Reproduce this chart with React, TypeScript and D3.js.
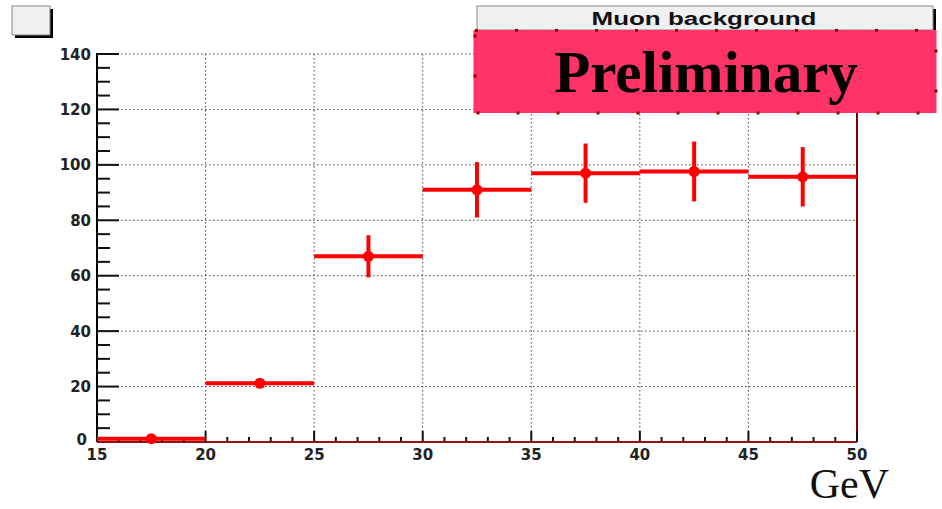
import React from "react";
import * as d3 from "d3";

const binEdges = [15, 20, 25, 30, 35, 40, 45, 50];
const binValues = [1.2, 21.2, 67.0, 91.0, 97.0, 97.6, 95.7];
const binErrors = [1.0, 1.5, 7.6, 10.0, 10.7, 10.8, 10.7];
const xTicks = [15, 20, 25, 30, 35, 40, 45, 50];
const yTicks = [0, 20, 40, 60, 80, 100, 120, 140];
const titleText = "Muon background";
const stampText = "Preliminary";
const xUnitText = "GeV";

const W = 942;
const H = 509;
const L = 97;
const R = 857;
const T = 54;
const B = 442;

export default function App() {
  const x = d3.scaleLinear().domain([15, 50]).range([L, R]);
  const y = d3.scaleLinear().domain([0, 140]).range([B, T]);
  const xMinor = d3.range(15, 50.001, 1);
  const yMinor = d3.range(0, 140.001, 5);
  const red = "#ff0000";
  const gridStyle = { stroke: "#444", strokeWidth: 1, strokeDasharray: "1.5,2.5" };

  const bins = binValues.map((v, i) => ({
    lo: binEdges[i],
    hi: binEdges[i + 1],
    c: (binEdges[i] + binEdges[i + 1]) / 2,
    v,
    e: binErrors[i],
  }));

  return (
    <svg width={W} height={H} style={{ position: "absolute", left: 0, top: 0, background: "#fff" }}>
      {/* top-left box */}
      <rect x={15} y={9} width={38} height={29} fill="#000" />
      <rect x={12} y={6} width={38} height={29} fill="#f0f0f0" stroke="#888" strokeWidth={1} />

      {/* grid */}
      {xTicks.slice(1, -1).map((t) => (
        <line key={"gx" + t} x1={x(t)} x2={x(t)} y1={T} y2={B} style={gridStyle} />
      ))}
      {yTicks.slice(1).map((t) => (
        <line key={"gy" + t} x1={L} x2={R} y1={y(t)} y2={y(t)} style={gridStyle} />
      ))}

      {/* y axis */}
      <line x1={L} x2={L} y1={T - 1} y2={B} stroke="#000" strokeWidth={2} />
      {yMinor.map((t) => {
        const major = t % 20 === 0;
        return (
          <line key={"yt" + t} x1={L} x2={L + (major ? 22 : 13)} y1={y(t)} y2={y(t)} stroke="#111" strokeWidth={2} />
        );
      })}
      {yTicks.map((t) => (
        <text
          key={"yl" + t}
          x={t === 0 ? 87 : 91}
          y={y(t) + (t === 0 ? 3 : 5.5)}
          textAnchor="end"
          fontFamily="DejaVu Sans"
          fontWeight="bold"
          fontSize={15}
          fill="#222"
        >
          {t}
        </text>
      ))}

      {/* x axis */}
      <line x1={L} x2={R} y1={B} y2={B} stroke="#9a1010" strokeWidth={2} />
      <line x1={R} x2={R} y1={113} y2={B} stroke="#800000" strokeWidth={2} />
      {xMinor.map((t) => {
        const major = (t - 15) % 5 === 0;
        return (
          <line key={"xt" + t} x1={x(t)} x2={x(t)} y1={B} y2={B - (major ? 11 : 5)} stroke="#111" strokeWidth={2} />
        );
      })}
      {xTicks.map((t) => (
        <text
          key={"xl" + t}
          x={x(t)}
          y={460}
          textAnchor="middle"
          fontFamily="DejaVu Sans"
          fontWeight="bold"
          fontSize={15}
          fill="#222"
        >
          {t}
        </text>
      ))}

      {/* histogram */}
      {bins.map((b, i) => (
        <g key={"b" + i}>
          <line x1={x(b.lo)} x2={x(b.hi)} y1={y(b.v)} y2={y(b.v)} stroke={red} strokeWidth={4} />
          <line x1={x(b.c)} x2={x(b.c)} y1={y(b.v - b.e)} y2={y(b.v + b.e)} stroke={red} strokeWidth={4} />
          <circle cx={x(b.c)} cy={y(b.v)} r={5.5} fill={red} />
        </g>
      ))}

      {/* title box */}
      <rect x={480} y={9} width={456} height={24} fill="#000" />
      <rect x={477} y={6} width={456} height={24} fill="#f0f0f0" stroke="#888" strokeWidth={1} />
      <text
        x={704}
        y={25}
        textAnchor="middle"
        fontFamily="Liberation Sans, Arial"
        fontWeight="bold"
        fontSize={18}
        textLength={225}
        lengthAdjust="spacingAndGlyphs"
        fill="#111"
      >
        {titleText}
      </text>

      {/* preliminary stamp */}
      <rect x={473.5} y={30} width={463} height={83} fill="#ff3366" />
      <rect
        x={475}
        y={30.5}
        width={461}
        height={82.5}
        fill="none"
        stroke="#8b0000"
        strokeWidth={3}
        strokeDasharray="3,37"
      />
      <text
        x={706}
        y={92}
        textAnchor="middle"
        fontFamily="Liberation Serif, Times New Roman"
        fontWeight="bold"
        fontSize={59}
        fill="#000"
      >
        {stampText}
      </text>

      {/* unit */}
      <text
        x={889}
        y={498}
        textAnchor="end"
        fontFamily="Liberation Serif, Times New Roman"
        fontSize={42}
        fill="#111"
      >
        {xUnitText}
      </text>
    </svg>
  );
}
